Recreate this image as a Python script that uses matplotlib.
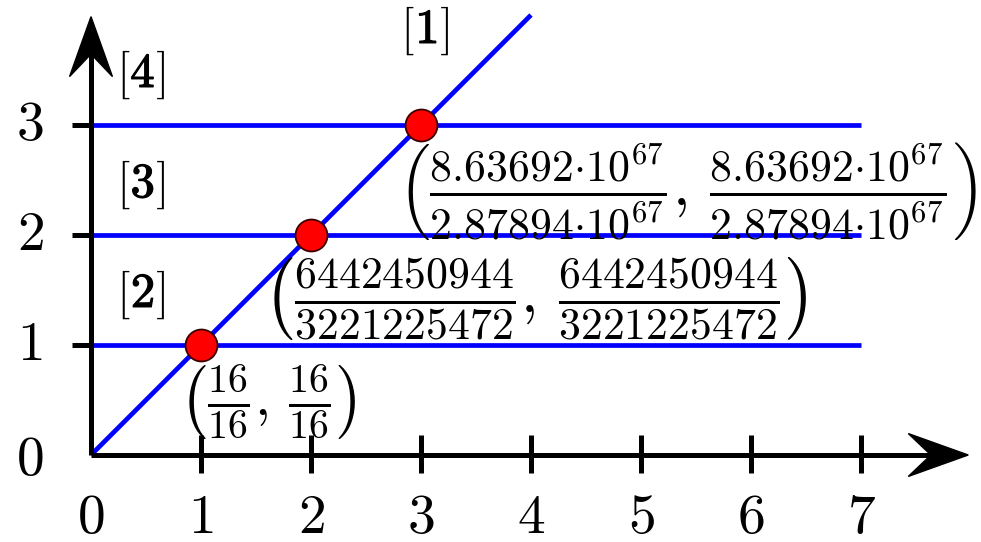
import matplotlib
matplotlib.use("Agg")
import matplotlib.pyplot as plt
from matplotlib.patches import Polygon
import matplotlib.patheffects as pe
from matplotlib.transforms import offset_copy

plt.rcParams['mathtext.fontset'] = 'cm'

# data
x_ticks = [1, 2, 3, 4, 5, 6, 7]
x_tick_labels = ['0', '1', '2', '3', '4', '5', '6', '7']
y_ticks = [1, 2, 3]
y_tick_labels = ['0', '1', '2', '3']
levels = [1, 2, 3]                 # horizontal lines y = c
level_x_end = 7
diag_end = 4                       # diagonal y = x from 0 to 4
points_x = [1, 2, 3]
points_y = [1, 2, 3]
point_labels = [
    r'$\left(\frac{16}{16},\,\frac{16}{16}\right)$',
    r'$\left(\frac{6442450944}{3221225472},\,\frac{6442450944}{3221225472}\right)$',
    r'$\left(\frac{8.63692{\cdot}10^{67}}{2.87894{\cdot}10^{67}},\,'
    r'\frac{8.63692{\cdot}10^{67}}{2.87894{\cdot}10^{67}}\right)$',
]
region_numbers = ['1', '4', '3', '2']

W, H, DPI = 981, 542, 100
fig = plt.figure(figsize=(W / DPI, H / DPI), dpi=DPI)
ax = fig.add_axes([0, 0, 1, 1])
scale = 110.0
ax.set_xlim(-91 / scale, (W - 91) / scale)
ax.set_ylim(-(H - 455) / scale, 455 / scale)
ax.axis('off')

blue = '#0000ff'
lw_blue = 3.4
lw_axis = 3.6
fs = 40

# horizontal level lines
for c in levels:
    ax.plot([0, level_x_end], [c, c], color=blue, lw=lw_blue, solid_capstyle='butt', zorder=2)
# diagonal
ax.plot([0, diag_end], [0, diag_end], color=blue, lw=lw_blue, solid_capstyle='butt', zorder=2)

# axes with stealth arrowheads
x_tip, y_tip = 7.975, 3.985
head_len, head_notch, head_half = 0.545, 0.34, 0.195
ax.plot([0, x_tip - head_notch], [0, 0], color='k', lw=lw_axis, solid_capstyle='butt', zorder=3)
ax.plot([0, 0], [0, y_tip - head_notch], color='k', lw=lw_axis, solid_capstyle='butt', zorder=3)
ax.add_patch(Polygon([(x_tip, 0), (x_tip - head_len, head_half), (x_tip - head_notch, 0),
                      (x_tip - head_len, -head_half)], closed=True, color='k', zorder=4))
ax.add_patch(Polygon([(0, y_tip), (-head_half, y_tip - head_len), (0, y_tip - head_notch),
                      (head_half, y_tip - head_len)], closed=True, color='k', zorder=4))

# ticks
for t in x_ticks:
    ax.plot([t, t], [-0.165, 0.18], color='k', lw=lw_axis, solid_capstyle='butt', zorder=3)
for t in y_ticks:
    ax.plot([-0.175, 0], [t, t], color='k', lw=lw_axis, solid_capstyle='butt', zorder=3)

# tick labels
for i, lab in enumerate(x_tick_labels):
    ax.text(i, -0.71, '$' + lab + '$', fontsize=fs, ha='center', va='baseline')
for i, lab in enumerate(y_tick_labels):
    ax.text(-0.555, i - (0.045 if i == 0 else 0.0), '$' + lab + '$', fontsize=fs,
            ha='center', va='center')

# intersection points
ax.plot(points_x, points_y, 'o', ms=23, mfc='#ff0000', mec='#3a0000', mew=1.3, zorder=5)

# point labels
label_pos = [(1.61, 0.475), (4.04, 1.425), (5.42, 2.40)]
label_fs = [41, 45, 45]
for (lx, ly), lab, f in zip(label_pos, point_labels, label_fs):
    ax.text(lx, ly, lab, fontsize=f, ha='center', va='center', zorder=6)

# region labels: roman brackets around a heavy bold number
region_pos = [(3.05, 3.745), (0.47, 3.345), (0.47, 2.345), (0.47, 1.345)]
rfs = 35
gap = 12.5  # points from number centre to bracket
for (rx, ry), n in zip(region_pos, region_numbers):
    ax.text(rx, ry, r'$\mathbf{' + n + r'}$', fontsize=rfs, ha='center', va='baseline',
            path_effects=[pe.withStroke(linewidth=0.9, foreground='k')])
    ax.text(rx, ry, r'$[$', fontsize=rfs, ha='right', va='baseline',
            transform=offset_copy(ax.transData, fig=fig, x=-gap * 0.72, y=0, units='points'))
    ax.text(rx, ry, r'$]$', fontsize=rfs, ha='left', va='baseline',
            transform=offset_copy(ax.transData, fig=fig, x=gap * 0.72, y=0, units='points'))

fig.savefig('out.png', dpi=DPI)
